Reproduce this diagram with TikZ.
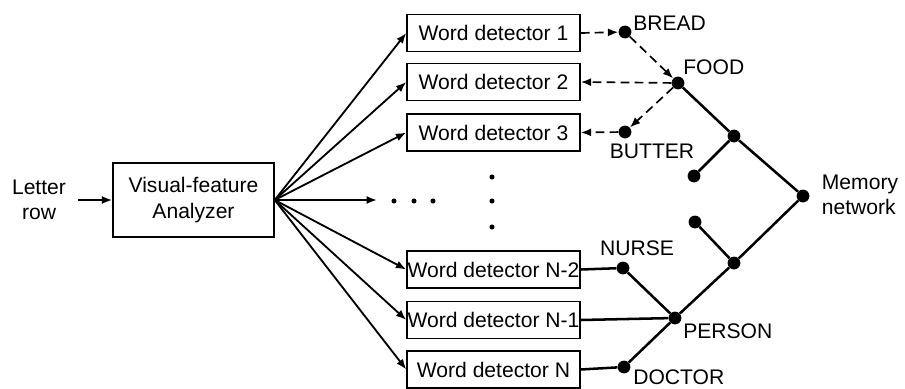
\documentclass[tikz,border=0pt]{standalone}
\usepackage{fontspec}
\setmainfont{Liberation Sans}
\usetikzlibrary{arrows.meta}
\newcommand{\bw}{4.325cm}
\newcommand{\bh}{0.925cm}

\tikzset{
    wordbox/.style={draw, line width=1pt, minimum width=\bw, minimum height=\bh, inner sep=0pt},
    knot/.style={circle, fill=black, inner sep=0pt, minimum size=3.2mm},
    arr/.style={line width=1.3pt, -{Latex[length=2.6mm, width=2mm]}},
    darr/.style={line width=1.2pt, dash pattern=on 2.2mm off 1.3mm, -{Latex[length=2.6mm, width=2mm]}},
    net/.style={line width=1.8pt},
    lbl/.style={inner sep=0pt}
}

\begin{document}
\begin{tikzpicture}[x=0.025cm, y=-0.025cm, font=\fontsize{15}{18}\selectfont]

        \useasboundingbox (0, 0) rectangle (905, 388);

        \node[align=center, lbl] (letter) at (39, 200) {Letter\\row};
        \node[draw, line width=1pt, minimum width=4.025cm, minimum height=1.85cm, align=center] (vfa) at (193.5, 200) {Visual-feature\\Analyzer};

        \node[wordbox] (wd1) at (493.5, 33) {Word detector 1};
        \node[wordbox] (wd2) at (493.5, 82) {Word detector 2};
        \node[wordbox] (wd3) at (493.5, 132.5) {Word detector 3};
        \node[wordbox] (wdn2) at (493.5, 269.5) {Word detector N-2};
        \node[wordbox] (wdn1) at (493.5, 320) {Word detector N-1};
        \node[wordbox] (wdn) at (493.5, 369.5) {Word detector N};

        \draw[arr, shorten <=3mm] (letter) -- (vfa);

        % fan out from the analyzer
        \coordinate (gap) at (377, 200);
        \draw[arr] (vfa.east) -- (wd1.west);
        \draw[arr] (vfa.east) -- (wd2.west);
        \draw[arr] (vfa.east) -- (wd3.west);
        \draw[arr] (vfa.east) -- (gap);
        \draw[arr] (vfa.east) -- (wdn2.west);
        \draw[arr] (vfa.east) -- (wdn1.west);
        \draw[arr] (vfa.east) -- (wdn.west);

        \fill (394, 201) circle (1.8pt);
        \fill (414, 201) circle (1.8pt);
        \fill (433, 201) circle (1.8pt);
        \fill (492, 177) circle (1.8pt);
        \fill (492, 201) circle (1.8pt);
        \fill (492, 227) circle (1.8pt);

        % memory network
        \node[knot] (bread) at (625, 32) {};
        \node[knot] (food) at (678, 83) {};
        \node[knot] (butter) at (625, 132) {};
        \node[knot] (nurse) at (623, 268) {};
        \node[knot] (person) at (675, 318) {};
        \node[knot] (doctor) at (624, 367) {};
        \node[knot] (upper) at (734, 136) {};
        \node[knot] (lower) at (734, 263) {};
        \node[knot] (upleaf) at (694, 176) {};
        \node[knot] (lowleaf) at (695, 222) {};
        \node[knot] (memory) at (803, 196) {};

        \draw[net] (food) -- (upper) -- (memory) -- (lower) -- (person);
        \draw[net] (upper) -- (upleaf);
        \draw[net] (lower) -- (lowleaf);
        \draw[net] (nurse) -- (person) -- (doctor);
        \draw[net] (wdn2.east) -- (nurse);
        \draw[net] (wdn1.east) -- (person);
        \draw[net] (wdn.east) -- (doctor);

        \draw[darr] (wd1.east) -- (bread);
        \draw[darr] (bread) -- (food);
        \draw[darr] (food) -- (wd2.east);
        \draw[darr] (food) -- (butter);
        \draw[darr] (butter) -- (wd3.east);

        \node[lbl, anchor=west] (breadlbl) at (633, 23) {BREAD};
        \node[lbl, anchor=west] (foodlbl) at (683, 67) {FOOD};
        \node[lbl] (butterlbl) at (652, 151) {BUTTER};
        \node[lbl] (nurselbl) at (637, 248) {NURSE};
        \node[lbl, anchor=west] (personlbl) at (683, 331) {PERSON};
        \node[lbl, anchor=west] (doctorlbl) at (633, 377) {DOCTOR};
        \node[lbl, align=left] (memlbl) at (860, 195) {Memory\\network};

\end{tikzpicture}
\end{document}
